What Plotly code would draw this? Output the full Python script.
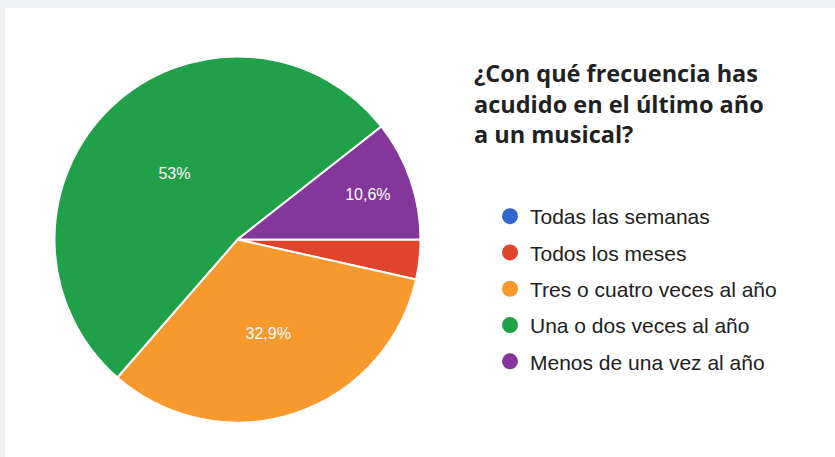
import plotly.graph_objects as go

# Survey answers (percent of respondents)
categories = [
    "Todas las semanas",
    "Todos los meses",
    "Tres o cuatro veces al año",
    "Una o dos veces al año",
    "Menos de una vez al año",
]
shares = [0.0, 3.5, 32.9, 53.0, 10.6]
colors = ["#3366cc", "#e0452a", "#f7992c", "#21a04a", "#83379a"]
# slices too thin for an inside label stay unlabeled
label_templates = ["", "", "%{percent}", "%{percent}", "%{percent}"]

question = "¿Con qué frecuencia has<br>acudido en el último año<br>a un musical?"

W, H = 835, 457
cx, cy, r = 237.5, 239.5, 183.0

fig = go.Figure()

fig.add_trace(go.Pie(
    labels=categories,
    values=shares,
    sort=False,
    direction="clockwise",
    rotation=90,
    marker=dict(colors=colors, line=dict(color="white", width=2)),
    texttemplate=label_templates,
    textposition="inside",
    insidetextorientation="horizontal",
    textfont=dict(family="Liberation Sans, Arial, sans-serif", size=16, color="white"),
    hovertemplate="%{label}: %{percent}<extra></extra>",
    showlegend=False,
    domain=dict(x=[(cx - r) / W, (cx + r) / W], y=[1 - (cy + r) / H, 1 - (cy - r) / H]),
))

# legend entries with round markers
for i, (name, col) in enumerate(zip(categories, colors)):
    fig.add_trace(go.Scatter(
        x=[None], y=[None], mode="markers", name=name,
        legendgroup=f"g{i}",
        marker=dict(symbol="circle", size=16, color=col),
        hoverinfo="skip",
    ))

fig.update_layout(
    width=W, height=H,
    margin=dict(l=0, r=0, t=0, b=0),
    paper_bgcolor="#f1f2f4",
    plot_bgcolor="rgba(0,0,0,0)",
    separators=",.",
    xaxis=dict(visible=False),
    yaxis=dict(visible=False),
    shapes=[dict(type="rect", xref="paper", yref="paper",
                 x0=5 / W, x1=1, y0=0, y1=1 - 8 / H,
                 fillcolor="white", line=dict(width=0), layer="below")],
    annotations=[dict(
        text=question, xref="paper", yref="paper",
        x=472 / W, y=1 - 55 / H, xanchor="left", yanchor="top",
        align="left", showarrow=False,
        font=dict(family="Open Sans, sans-serif", size=23.5, color="#212121", weight="bold"),
    )],
    legend=dict(
        x=490 / W, y=1 - 196 / H, xanchor="left", yanchor="top",
        bgcolor="rgba(0,0,0,0)",
        font=dict(family="Liberation Sans, Arial, sans-serif", size=21, color="#212121"),
        tracegroupgap=6,
        itemsizing="trace",
    ),
)

fig.write_html("out.html")
